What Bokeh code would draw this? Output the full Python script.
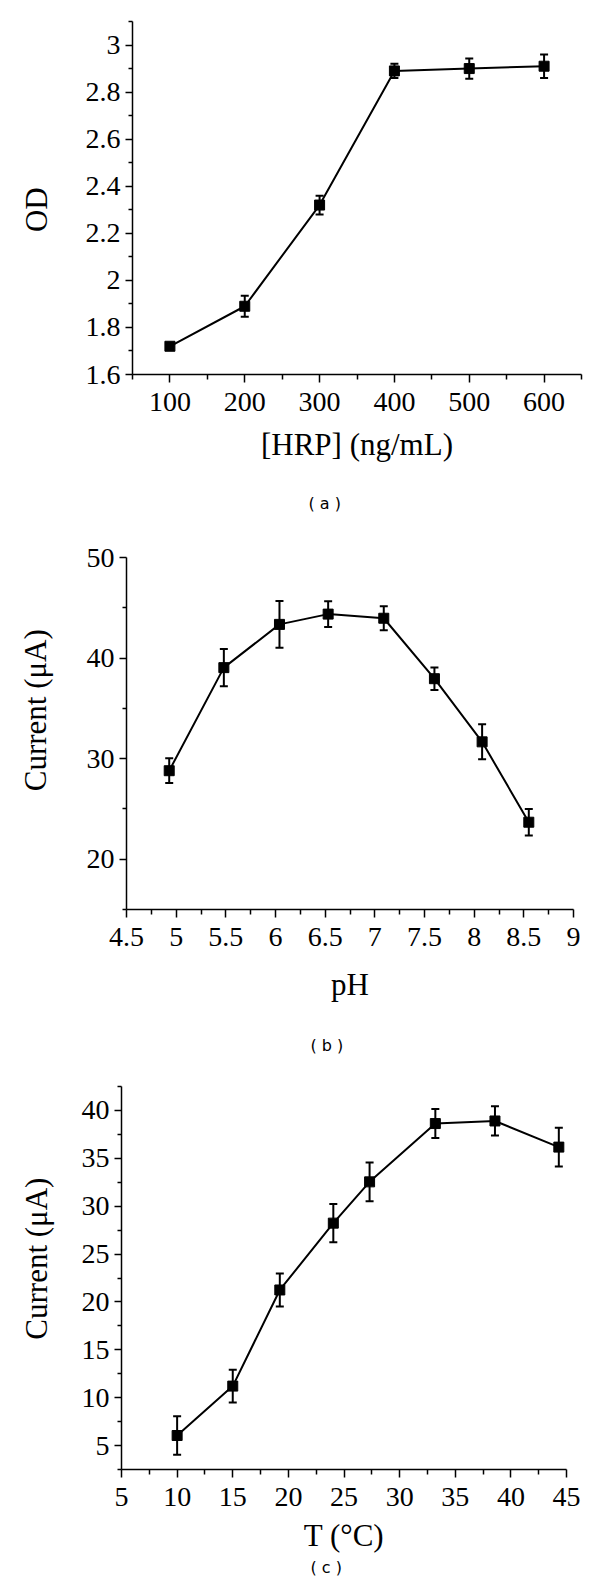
import numpy as np
from bokeh.plotting import figure
from bokeh.models import ColumnDataSource, Whisker, TeeHead, Range1d, FixedTicker, Title
from bokeh.embed import file_html
from bokeh.resources import INLINE

# ---------------- data ----------------
# Panel (a): OD vs HRP concentration
hrp_conc = [100, 200, 300, 400, 500, 600]
od_mean = [1.72, 1.89, 2.32, 2.89, 2.90, 2.91]
od_err = [0.01, 0.045, 0.04, 0.03, 0.043, 0.05]
a_xticks = [100, 200, 300, 400, 500, 600]
a_xtick_labels = ["100", "200", "300", "400", "500", "600"]
a_yticks = [1.6, 1.8, 2.0, 2.2, 2.4, 2.6, 2.8, 3.0]
a_ytick_labels = ["1.6", "1.8", "2", "2.2", "2.4", "2.6", "2.8", "3"]

# Panel (b): current vs pH
ph_values = [4.93, 5.48, 6.04, 6.53, 7.09, 7.60, 8.08, 8.55]
ph_current = [28.8, 39.05, 43.35, 44.37, 43.96, 37.95, 31.67, 23.68]
ph_err = [1.23, 1.84, 2.33, 1.28, 1.2, 1.12, 1.74, 1.31]
b_xticks = [4.5, 5, 5.5, 6, 6.5, 7, 7.5, 8, 8.5, 9]
b_xtick_labels = ["4.5", "5", "5.5", "6", "6.5", "7", "7.5", "8", "8.5", "9"]
b_yticks = [20, 30, 40, 50]
b_ytick_labels = ["20", "30", "40", "50"]

# Panel (c): current vs temperature
temp_values = [10, 15, 19.23, 24.04, 27.30, 33.21, 38.57, 44.31]
temp_current = [6.05, 11.21, 21.25, 28.23, 32.54, 38.63, 38.90, 36.17]
temp_err = [2.0, 1.71, 1.73, 2.0, 2.02, 1.51, 1.53, 2.02]
c_xticks = [5, 10, 15, 20, 25, 30, 35, 40, 45]
c_xtick_labels = ["5", "10", "15", "20", "25", "30", "35", "40", "45"]
c_yticks = [5, 10, 15, 20, 25, 30, 35, 40]
c_ytick_labels = ["5", "10", "15", "20", "25", "30", "35", "40"]

SERIF = "Liberation Serif"
SANS = "DejaVu Sans"
TICK_SIZE = "28px"
TITLE_SIZE = "31px"
NB = "\u00a0"  # padding used to nudge the axis titles along the axis


def make_panel(x, y, err, xr, yr, xticks, xlabels, xminor, yticks, ylabels, yminor,
               height, borders, xtitle, ytitle, xstand, ystand, caption, cap_off, cap_stand):
    left, right, top, bottom = borders
    p = figure(width=600, height=height, x_range=Range1d(*xr), y_range=Range1d(*yr),
               output_backend="svg", toolbar_location=None, title=None,
               min_border_left=left, min_border_right=right,
               min_border_top=top, min_border_bottom=bottom)
    p.outline_line_color = None
    p.grid.visible = False
    p.background_fill_color = "white"
    p.border_fill_color = "white"

    p.xaxis.ticker = FixedTicker(ticks=xticks, minor_ticks=xminor)
    p.xaxis.major_label_overrides = dict(zip(xticks, xlabels))
    p.yaxis.ticker = FixedTicker(ticks=yticks, minor_ticks=yminor)
    p.yaxis.major_label_overrides = dict(zip(yticks, ylabels))

    for ax in (p.xaxis[0], p.yaxis[0]):
        ax.axis_line_color = "black"
        ax.axis_line_width = 1.5
        ax.major_tick_line_color = "black"
        ax.minor_tick_line_color = "black"
        ax.major_tick_line_width = 1.5
        ax.minor_tick_line_width = 1.5
        ax.major_tick_in = 0
        ax.minor_tick_in = 0
        ax.major_label_text_font = SERIF
        ax.major_label_text_font_size = TICK_SIZE
        ax.major_label_text_color = "black"
        ax.axis_label_text_font = SERIF
        ax.axis_label_text_font_size = TITLE_SIZE
        ax.axis_label_text_font_style = "normal"
        ax.axis_label_text_color = "black"
    p.xaxis.major_tick_out = 8
    p.xaxis.minor_tick_out = 5
    p.xaxis.major_label_standoff = 10
    p.yaxis.major_tick_out = 7
    p.yaxis.minor_tick_out = 4
    p.yaxis.major_label_standoff = 5
    p.xaxis.axis_label = xtitle
    p.yaxis.axis_label = ytitle
    p.xaxis.axis_label_standoff = xstand
    p.yaxis.axis_label_standoff = ystand

    upper = [v + e for v, e in zip(y, err)]
    lower = [v - e for v, e in zip(y, err)]
    src = ColumnDataSource(data=dict(x=x, y=y, upper=upper, lower=lower))
    p.line("x", "y", source=src, line_width=2, line_color="black")
    w = Whisker(source=src, base="x", upper="upper", lower="lower",
                line_width=2, line_color="black",
                upper_head=TeeHead(size=8, line_width=2, line_color="black"),
                lower_head=TeeHead(size=8, line_width=2, line_color="black"))
    p.add_layout(w)
    p.scatter("x", "y", source=src, marker="square", size=10,
              fill_color="black", line_color="black")

    cap = Title(text=caption, align="left", offset=cap_off, standoff=cap_stand,
                text_font=SANS, text_font_size="16px", text_font_style="normal",
                text_color="black")
    p.add_layout(cap, "below")
    return p


pa = make_panel(hrp_conc, od_mean, od_err, (50, 650), (1.6, 3.1),
                a_xticks, a_xtick_labels, list(np.arange(50, 651, 100)),
                a_yticks, a_ytick_labels, [round(v, 1) for v in np.arange(1.7, 3.15, 0.2)],
                539, (132, 19, 21, 165),
                "[HRP] (ng/mL)", "OD" + NB * 3, 13, 29, "( a )", 176, 54)

pb = make_panel(ph_values, ph_current, ph_err, (4.5, 9), (15, 50),
                b_xticks, b_xtick_labels, [round(v, 2) for v in np.arange(4.75, 9, 0.5)],
                b_yticks, b_ytick_labels, [15, 25, 35, 45],
                545, (126, 27, 18, 173),
                "pH", NB * 6 + "Current (\u03bcA)", 18, 31, "( b )", 184, 59)

pc = make_panel(temp_values, temp_current, temp_err, (5, 45), (2.5, 42.5),
                c_xticks, c_xtick_labels, list(np.arange(7.5, 45, 5)),
                c_yticks, c_ytick_labels, list(np.arange(2.5, 43, 5)),
                492, (121, 34, 2, 106),
                "T (\u00b0C)", NB * 5 + "Current (\u03bcA)", 9, 25, "( c )", 189, 0)

open("out.html", "w").write(file_html([pa, pb, pc], INLINE))
